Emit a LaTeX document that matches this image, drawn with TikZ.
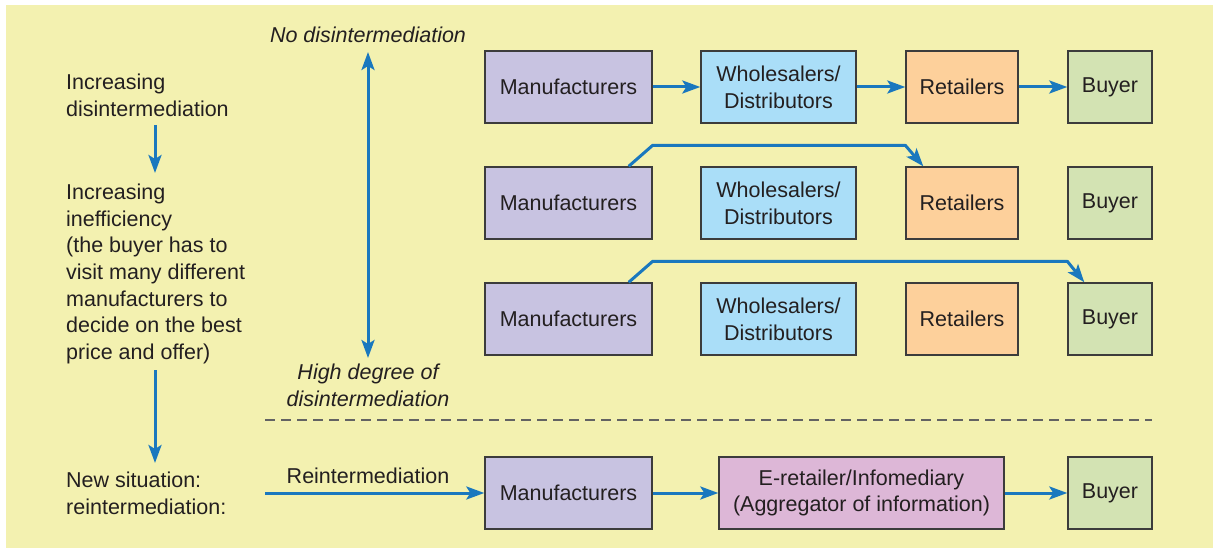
\documentclass[tikz,border=0pt]{standalone}
\usepackage{fontspec}
\setmainfont{Liberation Sans}
\usetikzlibrary{arrows.meta}
\definecolor{bgc}{HTML}{F3F1B0}
\definecolor{manc}{HTML}{C8C3E1}
\definecolor{whoc}{HTML}{AADEF8}
\definecolor{retc}{HTML}{FDD09B}
\definecolor{buyc}{HTML}{D3E3B3}
\definecolor{erc}{HTML}{DDB7D7}
\definecolor{arrc}{HTML}{1A78BE}
\definecolor{txtc}{HTML}{231F20}
\definecolor{edgec}{HTML}{3C3C3C}
\begin{document}
\begin{tikzpicture}[x=1pt,y=-1pt,
  every node/.style={text=txtc, font=\fontsize{21.5}{26.7}\selectfont},
  box/.style={draw=edgec, line width=1.4pt, minimum height=72pt, inner sep=0pt, align=center},
  manbox/.style={box, fill=manc, minimum width=167pt},
  whobox/.style={box, fill=whoc, minimum width=155pt},
  retbox/.style={box, fill=retc, minimum width=112pt},
  buybox/.style={box, fill=buyc, minimum width=84pt},
  erbox/.style={box, fill=erc, minimum width=285pt},
  tip/.tip={Stealth[length=18pt,width=13pt,inset=4pt]},
  arr/.style={draw=arrc, line width=3pt, -tip},
  darr/.style={draw=arrc, line width=3pt, tip-tip},
  lefttext/.style={anchor=west, align=left, inner sep=0pt},
  itext/.style={align=center, inner sep=0pt, font=\fontsize{21.5}{26.7}\selectfont\itshape}
]
\useasboundingbox (0,0) rectangle (1213,548);
\fill[white] (0,0) rectangle (1213,548);
\fill[bgc] (6,5) rectangle (1213,548);

% left column
\node[lefttext] (t1) at (66,95) {Increasing\\disintermediation};
\node[lefttext] (t2) at (66,274) {Increasing\\inefficiency\\(the buyer has to\\visit many different\\manufacturers to\\decide on the best\\price and offer)};
\node[lefttext] (t3) at (66,493) {New situation:\\reintermediation:};
\coordinate (a1s) at (155,125);
\coordinate (a1e) at (155,173);
\coordinate (a2s) at (155,370);
\coordinate (a2e) at (155,463);
\draw[arr] (a1s) -- (a1e);
\draw[arr] (a2s) -- (a2e);

% vertical scale
\node[itext] (nod) at (368,35) {No disintermediation};
\node[itext] (hd) at (368,385) {High degree of\\disintermediation};
\coordinate (vt) at (368,52);
\coordinate (vb) at (368,358);
\draw[darr] (vt) -- (vb);

% row 1
\node[manbox] (m1) at (568.5,87) {Manufacturers};
\node[whobox] (w1) at (778.5,87) {Wholesalers/\\Distributors};
\node[retbox] (r1) at (962,87) {Retailers};
\node[buybox] (b1) at (1110,87) {Buyer};
\draw[arr] (m1) -- (w1);
\draw[arr] (w1) -- (r1);
\draw[arr] (r1) -- (b1);

% row 2
\node[manbox] (m2) at (568.5,203) {Manufacturers};
\node[whobox] (w2) at (778.5,203) {Wholesalers/\\Distributors};
\node[retbox] (r2) at (962,203) {Retailers};
\node[buybox] (b2) at (1110,203) {Buyer};
\draw[arr, line join=round] ([xshift=-24pt]m2.north east) -- ([yshift=21pt]m2.north east) -- ([yshift=21pt]r2.north west) -- ([xshift=18pt]r2.north west);

% row 3
\node[manbox] (m3) at (568.5,319) {Manufacturers};
\node[whobox] (w3) at (778.5,319) {Wholesalers/\\Distributors};
\node[retbox] (r3) at (962,319) {Retailers};
\node[buybox] (b3) at (1110,319) {Buyer};
\draw[arr, line join=round] ([xshift=-24pt]m3.north east) -- ([yshift=21pt]m3.north east) -- ([yshift=21pt]b3.north west) -- ([xshift=17pt]b3.north west);

% dashed separator
\coordinate (d1) at (265,420);
\coordinate (d2) at (1152,420);
\draw[draw=edgec!80, line width=1.2pt, dash pattern=on 10pt off 6pt] (d1) -- (d2);

% row 4
\node[manbox] (m4) at (568.5,493) {Manufacturers};
\node[erbox] (e4) at (861.5,493) {E-retailer/Infomediary\\(Aggregator of information)};
\node[buybox] (b4) at (1110,493) {Buyer};
\coordinate (rs) at (265,493);
\node[inner sep=0pt] (rl) at (368,476) {Reintermediation};
\draw[arr] (rs) -- (m4);
\draw[arr] (m4) -- (e4);
\draw[arr] (e4) -- (b4);
\end{tikzpicture}
\end{document}
